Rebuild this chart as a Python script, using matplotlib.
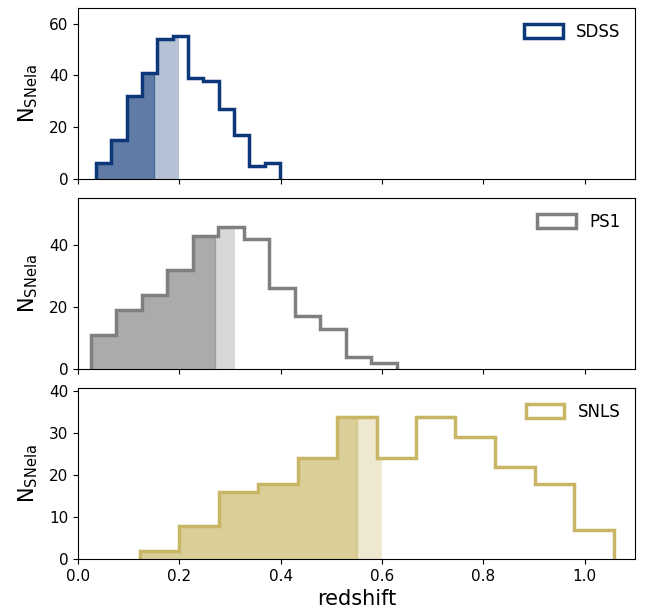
import matplotlib
matplotlib.use('Agg')
import matplotlib.pyplot as plt
from matplotlib.patches import Patch
import numpy as np

# bin edges / counts
sdss_edges = [0.035, 0.065, 0.096, 0.126, 0.156, 0.187, 0.217, 0.247, 0.278, 0.308, 0.338, 0.369, 0.399]
sdss_counts = [6, 15, 32, 41, 54, 55, 39, 38, 27, 17, 5, 6]

ps1_edges = [0.025, 0.075, 0.126, 0.176, 0.226, 0.277, 0.327, 0.377, 0.428, 0.478, 0.528, 0.579, 0.629]
ps1_counts = [11, 19, 24, 32, 43, 46, 42, 26, 17, 13, 4, 2]

snls_edges = [0.122, 0.200, 0.278, 0.356, 0.434, 0.512, 0.590, 0.667, 0.745, 0.823, 0.901, 0.979, 1.057]
snls_counts = [2, 8, 16, 18, 24, 34, 24, 34, 29, 22, 18, 7]

# redshift cuts (dark fill, light fill)
sdss_cuts = [0.15, 0.20]
ps1_cuts = [0.27, 0.31]
snls_cuts = [0.55, 0.60]

names = ['SDSS', 'PS1', 'SNLS']
colors = ['#0c3778', '#7f7f7f', '#c8b664']


def cut_hist(edges, counts, zcut):
    """histogram truncated at zcut"""
    e = np.array(edges)
    c = np.array(counts)
    keep = e < zcut
    new_e = list(e[keep]) + [zcut]
    new_c = list(c[:len(new_e) - 1])
    return new_e, new_c


fig = plt.figure(figsize=(6.45, 6.13), dpi=100)
left, width, height = 0.121, 0.864, 0.279
bottoms = [0.708, 0.398, 0.088]

data = [(sdss_edges, sdss_counts, sdss_cuts),
        (ps1_edges, ps1_counts, ps1_cuts),
        (snls_edges, snls_counts, snls_cuts)]

axes = []
for i, (edges, counts, cuts) in enumerate(data):
    ax = fig.add_axes([left, bottoms[i], width, height])
    col = colors[i]

    # light fill up to the larger cut, darker fill up to the smaller cut
    e2, c2 = cut_hist(edges, counts, cuts[1])
    ax.stairs(c2, e2, fill=True, facecolor=col, edgecolor='none', alpha=0.3)
    e1, c1 = cut_hist(edges, counts, cuts[0])
    ax.stairs(c1, e1, fill=True, facecolor=col, edgecolor=col, lw=1, alpha=0.5)

    ax.stairs(counts, edges, color=col, lw=2.5, baseline=0)

    ax.set_xlim(0, 1.1)
    ax.set_ylim(0, 1.2 * max(counts))
    ax.set_ylabel(r'N$_{\mathrm{SNeIa}}$', fontsize=15)
    ax.tick_params(labelsize=11)
    h = Patch(facecolor='none', edgecolor=col, lw=2.5, label=names[i])
    ax.legend(handles=[h], loc='upper right', frameon=False, fontsize=12,
              handleheight=0.9, handlelength=2.3)
    if i < 2:
        ax.tick_params(labelbottom=False)
    axes.append(ax)

axes[2].set_xlabel('redshift', fontsize=15)
for ax in axes:
    ax.yaxis.set_label_coords(-0.068, 0.5)

fig.savefig('out.png', dpi=100)
